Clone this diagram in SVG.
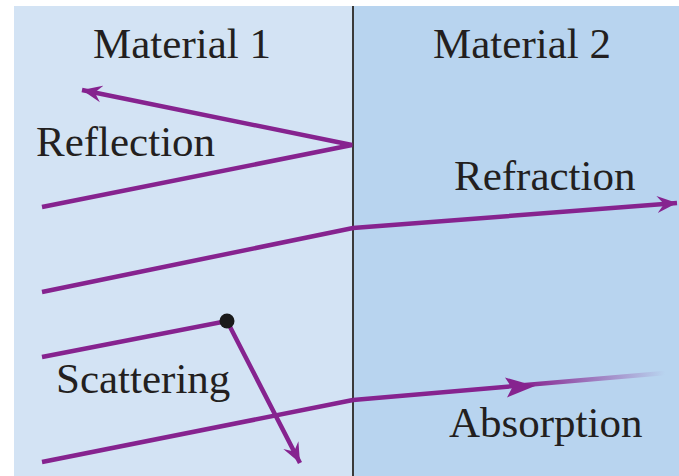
<svg xmlns="http://www.w3.org/2000/svg" width="679" height="476" viewBox="0 0 679 476">
<defs>
<style>
.lbl{font-family:"Liberation Serif","Times New Roman",serif;font-size:43px;fill:#231f20}
.ray{fill:none;stroke:#86238f;stroke-width:4.5;stroke-linecap:butt;stroke-linejoin:miter}
</style>
<marker id="ah" viewBox="-20 -9 22 18" markerWidth="22" markerHeight="18" refX="0" refY="0" orient="auto" markerUnits="userSpaceOnUse">
<path d="M0,0 L-20,-8.5 L-13,0 L-20,8.5 Z" fill="#86238f"/>
</marker>
<linearGradient id="fade" gradientUnits="userSpaceOnUse" x1="352" y1="0" x2="665" y2="0">
<stop offset="0" stop-color="#86238f" stop-opacity="1"/>
<stop offset="0.55" stop-color="#86238f" stop-opacity="1"/>
<stop offset="1" stop-color="#86238f" stop-opacity="0"/>
</linearGradient>
</defs>
<rect x="0" y="0" width="679" height="476" fill="#ffffff"/>
<g id="material1">
<rect x="14" y="6" width="339" height="470" fill="#d3e3f4"/>
<text class="lbl" x="182" y="58" text-anchor="middle">Material 1</text>
</g>
<g id="material2">
<rect x="353" y="6" width="326" height="470" fill="#b8d4ef"/>
<text class="lbl" x="522" y="58" text-anchor="middle">Material 2</text>
</g>
<g id="interface">
<line x1="353" y1="6" x2="353" y2="476" stroke="#3a3a3a" stroke-width="2"/>
</g>
<g id="connectors">
<polyline class="ray" points="42,207 352,145 82,90" marker-end="url(#ah)"/>
<polyline class="ray" points="42,292 353,228 677,203" marker-end="url(#ah)"/>
<polyline class="ray" points="42,357 227,321 300,463" marker-end="url(#ah)"/>
<line class="ray" x1="42" y1="462" x2="353" y2="400"/>
<line x1="353" y1="400" x2="665" y2="373" stroke="url(#fade)" stroke-width="4.5"/>
<path d="M535,386 L505,377.5 L512,388 L507,397.5 Z" fill="#86238f"/>
</g>
<g id="scatter-point">
<circle cx="227" cy="321" r="7.5" fill="#1a1a1a"/>
</g>
<g id="labels">
<text class="lbl" x="36" y="156">Reflection</text>
<text class="lbl" x="454" y="190">Refraction</text>
<text class="lbl" x="56" y="393">Scattering</text>
<text class="lbl" x="449" y="437">Absorption</text>
</g>
</svg>
